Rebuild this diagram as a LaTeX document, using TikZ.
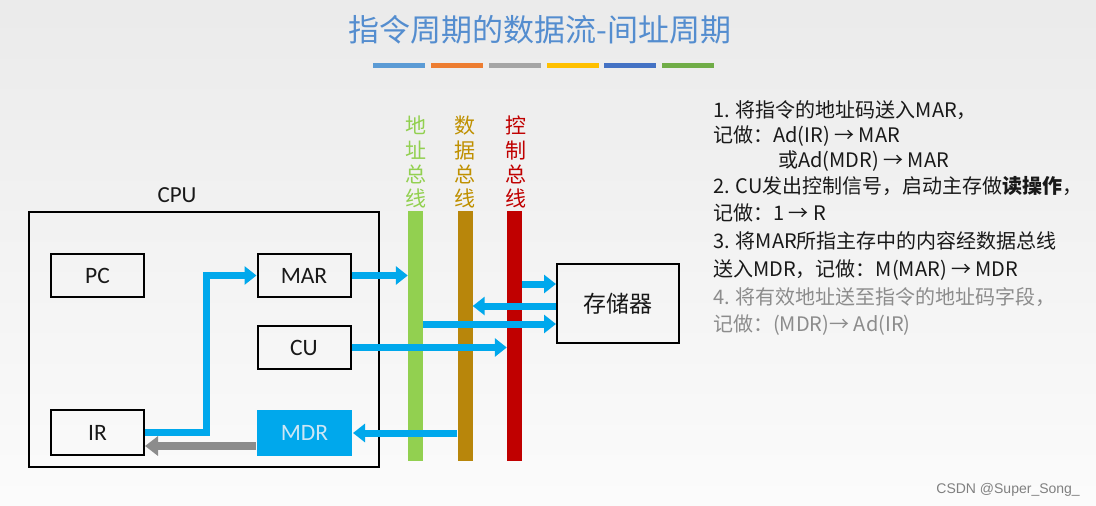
\documentclass[tikz,border=0pt]{standalone}
\usepackage{fontspec}
\setmainfont{Noto Sans CJK SC}
\newfontfamily\lat{Carlito}
\newfontfamily\wm{Liberation Sans}
\usetikzlibrary{arrows.meta}
\definecolor{arrblue}{RGB}{0,168,236}
\definecolor{titleblue}{RGB}{84,141,207}
\definecolor{busgreen}{RGB}{146,208,80}
\definecolor{busbrown}{RGB}{184,134,11}
\definecolor{busred}{RGB}{192,0,0}
\definecolor{lblgreen}{RGB}{146,208,80}
\definecolor{lblbrown}{RGB}{191,144,0}
\definecolor{barA}{RGB}{91,155,213}
\definecolor{barB}{RGB}{237,125,49}
\definecolor{barC}{RGB}{165,165,165}
\definecolor{barD}{RGB}{255,192,0}
\definecolor{barE}{RGB}{68,114,196}
\definecolor{barF}{RGB}{112,173,71}
\definecolor{txt}{RGB}{25,25,25}
\definecolor{txtgray}{RGB}{140,140,140}
\definecolor{mdrtxt}{RGB}{205,230,245}
\tikzset{
  regbox/.style={draw=black, line width=2pt, minimum width=93pt, minimum height=43pt, inner sep=0pt, font=\lat\fontsize{23.5}{23.5}\selectfont, text=txt},
  busbar/.style={minimum width=15pt, minimum height=250pt, inner sep=0pt},
  buslbl/.style={anchor=north, align=center, inner sep=0pt, font=\fontsize{21}{24.2}\selectfont},
  bluearr/.style={draw=arrblue, line width=7pt, -{Triangle[length=12pt,width=18pt]}},
  grayarr/.style={draw=gray!90, line width=8pt, -{Triangle[length=13pt,width=19pt]}},
  stepline/.style={anchor=base west, inner sep=0pt, font=\fontsize{20}{20}\selectfont, text=txt},
  colorbar/.style={minimum width=52pt, minimum height=5pt, inner sep=0pt}
}
\begin{document}
\begin{tikzpicture}[x=1pt,y=-1pt]
\useasboundingbox (0,0) rectangle (1096,506);
\shade[top color=gray!16, bottom color=gray!3] (0,0) rectangle (1096,506);

% title
\node[font=\fontsize{31}{31}\selectfont, text=titleblue] (title) at (540,30) {指令周期的数据流-间址周期};
\node[colorbar, fill=barA] (b1) at (399,65.5) {};
\node[colorbar, fill=barB] (b2) at (457,65.5) {};
\node[colorbar, fill=barC] (b3) at (515,65.5) {};
\node[colorbar, fill=barD] (b4) at (573,65.5) {};
\node[colorbar, fill=barE] (b5) at (630,65.5) {};
\node[colorbar, fill=barF] (b6) at (688,65.5) {};

% CPU
\node[draw=black, line width=2pt, minimum width=350pt, minimum height=255pt, inner sep=0pt] (cpu) at (204,339.5) {};
\node[font=\lat\fontsize{23}{23}\selectfont, text=txt] (cpulbl) at (177,195) {CPU};
\node[regbox] (pc) at (97.5,275.5) {PC};
\node[regbox] (mar) at (304,275.5) {MAR};
\node[regbox] (cu) at (304,347.5) {CU};
\node[regbox, minimum height=45pt] (ir) at (97.5,432.5) {IR};
\node[regbox, draw=none, fill=arrblue, minimum width=95pt, minimum height=46pt, text=mdrtxt] (mdr) at (304.5,433) {MDR};

% buses
\node[busbar, fill=busgreen] (addr) at (415.5,336) {};
\node[busbar, fill=busbrown] (data) at (465,336) {};
\node[busbar, fill=busred] (ctrl) at (514.5,336) {};
\node[buslbl, text=lblgreen] (addrlbl) at (415.5,116) {地\\址\\总\\线};
\node[buslbl, text=lblbrown] (datalbl) at (465,116) {数\\据\\总\\线};
\node[buslbl, text=busred] (ctrllbl) at (516,116) {控\\制\\总\\线};

% memory
\node[draw=black, line width=2pt, minimum width=122pt, minimum height=79pt, inner sep=0pt, font=\fontsize{23}{23}\selectfont, text=txt] (mem) at (618,303.5) {存储器};
\coordinate (m1) at (mem.west |- 0,284);
\coordinate (m2) at (mem.west |- 0,306);
\coordinate (m3) at (mem.west |- 0,324);

% arrows
\draw[bluearr] (ir.east) -- ++(61,0) |- (mar.west);
\draw[grayarr] ([yshift=-13pt]mdr.west) -- ([yshift=-13pt]mdr.west -| ir.east);
\draw[bluearr] (mar.east) -- (mar.east -| addr.west);
\draw[bluearr] (cu.east) -- (cu.east -| ctrl.west);
\draw[bluearr] (mdr.east -| data.west) -- (mdr.east);
\draw[bluearr] (m1 -| ctrl.east) -- (m1);
\draw[bluearr] (m2) -- (m2 -| data.east);
\draw[bluearr] (m3 -| addr.east) -- (m3);

% steps
\node[stepline] (s1) at (713,117) {1. 将指令的地址码送入MAR，};
\node[stepline] (s2) at (713,142) {记做：Ad(IR) → MAR};
\node[stepline] (s3) at (778,167) {或Ad(MDR) → MAR};
\node[stepline] (s4) at (713,193) {2. CU发出控制信号，启动主存做\textbf{读操作}，};
\node[stepline] (s5) at (713,220) {记做：1 → R};
\node[stepline] (s6) at (713,248) {3. 将MAR所指主存中的内容经数据总线};
\node[stepline] (s7) at (713,276) {送入MDR，记做：M(MAR) → MDR};
\node[stepline, text=txtgray] (s8) at (713,304) {4. 将有效地址送至指令的地址码字段，};
\node[stepline, text=txtgray] (s9) at (713,331) {记做：(MDR)→ Ad(IR)};

% watermark
\node[anchor=base east, inner sep=0pt, font=\wm\fontsize{14}{14}\selectfont, text=gray] (wmk) at (1080,493) {CSDN @Super\_Song\_};
\end{tikzpicture}
\end{document}
